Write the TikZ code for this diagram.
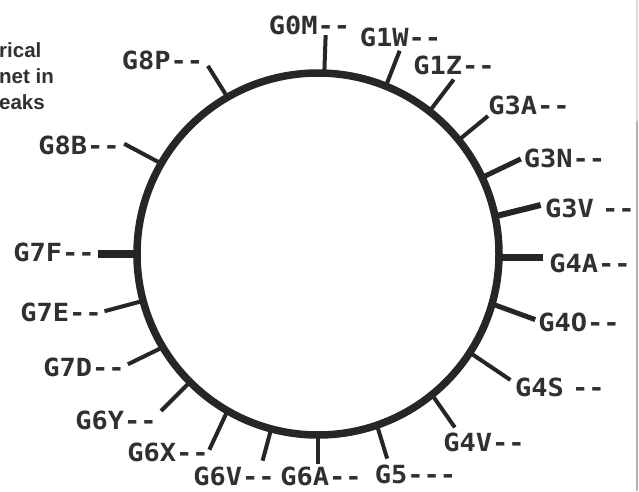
\documentclass[tikz,border=0pt]{standalone}
\usepackage{fontspec}
\newfontfamily\lblfont{DejaVu Sans Mono}[FakeStretch=1.08]
\newfontfamily\capfont{Liberation Sans}
\definecolor{ink}{HTML}{262626}
\definecolor{txt}{HTML}{303030}
\begin{document}
\begin{tikzpicture}[x=1pt,y=1pt,
  tick/.style={draw=ink, line width=4pt},
  lbl/.style={inner sep=0pt, text=txt, font=\lblfont\bfseries\fontsize{25}{25}\selectfont},
]
\useasboundingbox (0,0) rectangle (639,491);
\fill[white] (0,0) rectangle (639,491);
% right edge rule
\draw[gray!30, line width=1.5pt] (637,491) -- (637,370);
\draw[gray!60, line width=1.5pt] (637,370) -- (637,0);
% caption fragment
\node[anchor=north west, align=left, inner sep=0pt, text=txt,
      font=\capfont\bfseries\fontsize{20.5}{26}\selectfont] (cap) at (-1,448.5) {rical\\net in\\eaks};
% ring
\node[circle, draw=ink, line width=7.5pt, minimum size=362pt, inner sep=0pt, outer sep=0pt] (ring) at (318,237) {};
% ticks
\draw[tick] (ring.88) -- ++(88:38);
\draw[tick] (ring.68.6) -- ++(68.6:38);
\draw[tick] (ring.52.7) -- ++(52.7:40);
\draw[tick] (ring.39.4) -- ++(39.4:38);
\draw[tick, line width=5pt] (ring.25.6) -- ++(25.6:43);
\draw[tick, line width=6pt] (ring.12.9) -- ++(14:47);
\draw[tick, line width=7pt] (ring.-1) -- ++(0:44);
\draw[tick, line width=5pt] (ring.-16.5) -- ++(-20:46);
\draw[tick] (ring.-33) -- ++(-34:49);
\draw[tick] (ring.-51) -- ++(-55:40);
\draw[tick] (ring.-71) -- ++(-73:35);
\draw[tick] (ring.-90) -- ++(-90:29);
\draw[tick] (ring.-105) -- ++(-105:33);
\draw[tick] (ring.-120) -- ++(-115:43);
\draw[tick] (ring.-135.4) -- ++(-135:41);
\draw[tick] (ring.-149.5) -- ++(-154:39);
\draw[tick] (ring.-165) -- ++(-165:40);
\draw[tick, line width=8pt] (ring.180) -- ++(180:39);
\draw[tick] (ring.150.5) -- ++(152:42);
\draw[tick] (ring.120.5) -- ++(122:37);
% labels
\node[lbl] (g0m) at (309.5,466) {G0M--};
\node[lbl] (g1w) at (400.5,454) {G1W--};
\node[lbl] (g1z) at (454,426) {G1Z--};
\node[lbl] (g8p) at (162.5,431) {G8P--};
\node[lbl] (g3a) at (529,386) {G3A--};
\node[lbl] (g3n) at (564.5,333) {G3N--};
\node[lbl, anchor=west] (g3v) at (545,283) {G3V\kern-8pt{} --};
\node[lbl] (g4a) at (590,228) {G4A--};
\node[lbl] (g4o) at (579,169) {G4O--};
\node[lbl, anchor=west] (g4s) at (515,104) {G4S\kern-8pt{} --};
\node[lbl] (g4v) at (484,49) {G4V--};
\node[lbl] (g5) at (415.5,17) {G5---};
\node[lbl] (g6a) at (321,14.5) {G6A--};
\node[lbl] (g6v) at (234,15) {G6V--};
\node[lbl] (g6x) at (168,39) {G6X--};
\node[lbl] (g6y) at (116,71) {G6Y--};
\node[lbl] (g7d) at (84,124) {G7D--};
\node[lbl] (g7e) at (61,179) {G7E--};
\node[lbl] (g7f) at (54,239) {G7F--};
\node[lbl] (g8b) at (79,346) {G8B--};
\end{tikzpicture}
\end{document}
